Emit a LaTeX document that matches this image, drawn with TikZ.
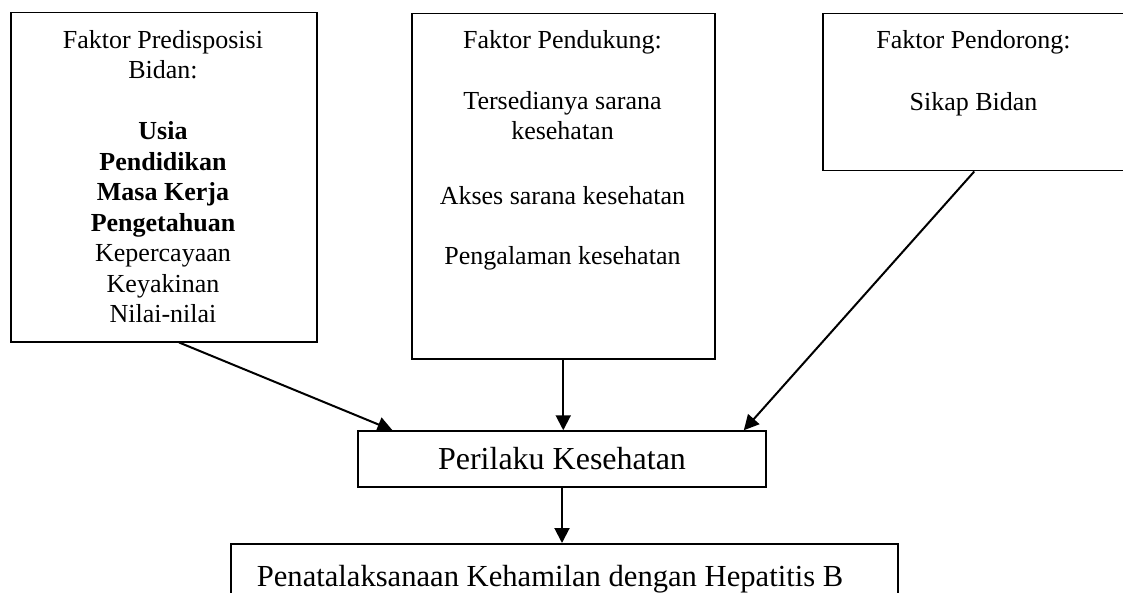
\documentclass[tikz,border=0pt]{standalone}
\usepackage{fontspec}
\setmainfont{Liberation Serif}
\usetikzlibrary{arrows.meta,calc}

\begin{document}
\begin{tikzpicture}[x=0.5pt, y=-0.5pt, line width=0.75pt,
  kotak/.style={draw, rectangle, anchor=north west, inner sep=0pt},
  isi/.style={anchor=north, align=center, inner sep=0pt, font=\fontsize{13}{15.25}\selectfont},
  besar/.style={draw, rectangle, inner sep=0pt, font=\fontsize{16}{19}\selectfont},
  panah/.style={-{Triangle[length=7.5pt, width=7.5pt]}, line width=1pt}]
  \useasboundingbox (0,0) rectangle (1123,593);
  % Factor boxes
  \node[kotak, minimum width=153pt, minimum height=164.5pt] (predisposisi) at (10,12) {};
  \node[kotak, minimum width=151.5pt, minimum height=172.5pt] (pendukung) at (411,13) {};
  \node[kotak, minimum width=151.5pt, minimum height=78.5pt] (pendorong) at (822,13) {};
  % Texts, top aligned
  \node[isi] (tpredisposisi) at (163,29.5) {Faktor Predisposisi\\ Bidan:\\[15.25pt]
    \textbf{Usia}\\ \textbf{Pendidikan}\\ \textbf{Masa Kerja}\\ \textbf{Pengetahuan}\\
    Kepercayaan\\ Keyakinan\\ Nilai-nilai};
  \node[isi] (tpendukung) at (562.5,30) {Faktor Pendukung:\\[15pt]
    Tersedianya sarana\\ kesehatan\\[17pt] Akses sarana kesehatan\\[15pt]
    Pengalaman kesehatan};
  \node[isi] (tpendorong) at (973.5,29.5) {Faktor Pendorong:\\[16pt] Sikap Bidan};
  % Behaviour and outcome
  \node[besar, minimum width=204pt, minimum height=28pt] (perilaku) at (562,459) {Perilaku Kesehatan};
  \node[kotak, minimum width=333.5pt, minimum height=40pt] (penatalaksanaan) at (230,543) {};
  \node[anchor=base, inner sep=0pt, font=\fontsize{15.3}{18}\selectfont] (tpenatalaksanaan)
    at (550,586) {Penatalaksanaan Kehamilan dengan Hepatitis B};
  % Arrows
  \draw[panah] ($(predisposisi.south west)!0.55!(predisposisi.south east)$)
    -- ($(perilaku.north west)!0.086!(perilaku.north east)$);
  \draw[panah] (pendukung.south) -- (pendukung.south |- perilaku.north);
  \draw[panah] (pendorong.south) -- ($(perilaku.north west)!0.944!(perilaku.north east)$);
  \draw[panah] (perilaku.south) -- (perilaku.south |- penatalaksanaan.north);
\end{tikzpicture}
\end{document}
